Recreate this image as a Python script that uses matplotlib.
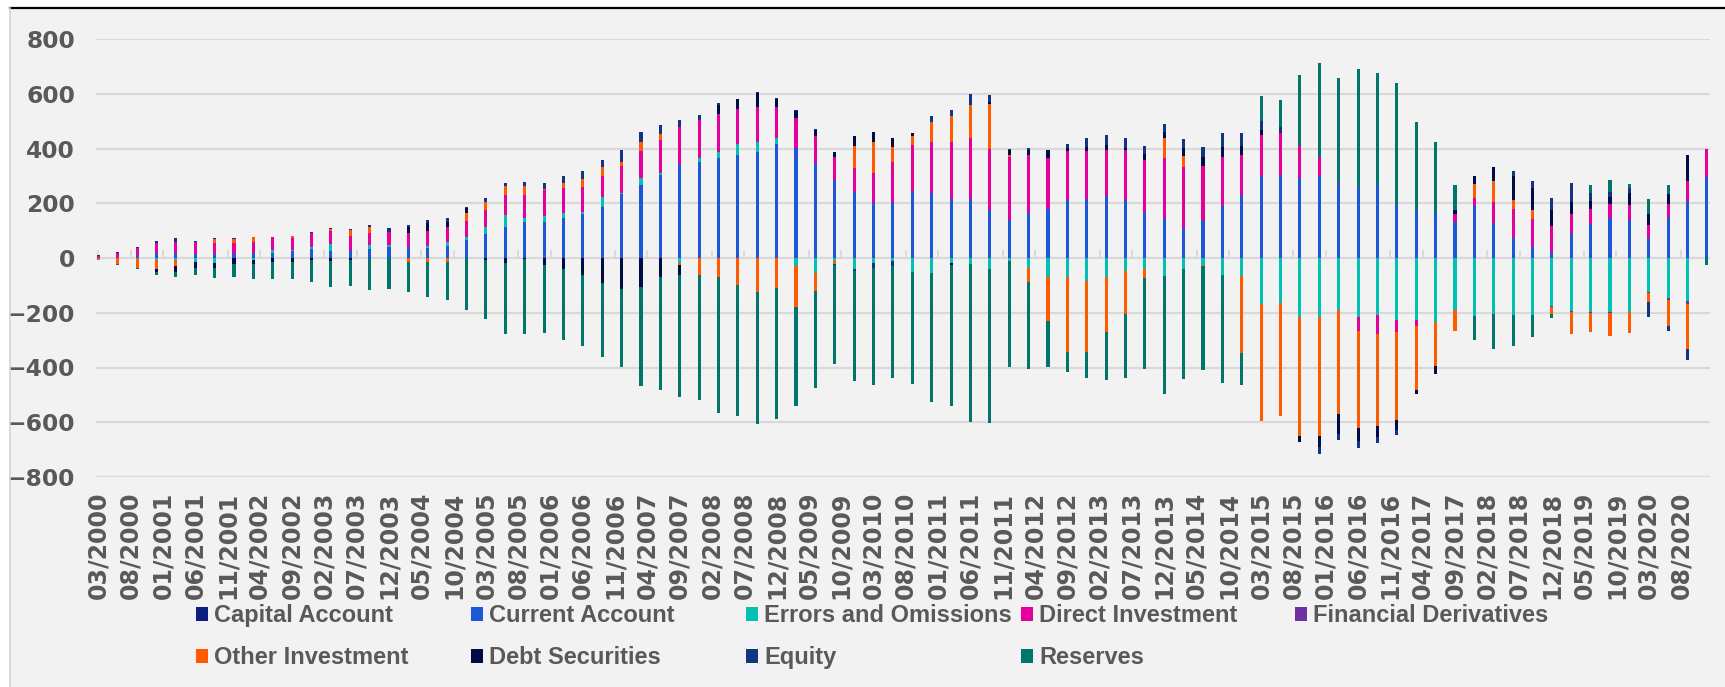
import numpy as np
import pandas as pd
import matplotlib
matplotlib.use("Agg")
import matplotlib.pyplot as plt
from matplotlib.patches import Rectangle
from matplotlib.lines import Line2D

# ---------------- data (USD bn, quarterly 03/2000 .. 12/2020) ----------------
quarters = pd.period_range("2000-03", "2020-12", freq="3M")
quarter_labels = [p.strftime("%m/%Y") for p in quarters]

series_names = ["Capital Account", "Current Account", "Errors and Omissions",
                "Direct Investment", "Financial Derivatives", "Other Investment",
                "Debt Securities", "Equity", "Reserves"]

capital_account = [0] * 84

current_account = [0, 0, 10, 17, 20, 15, 15, 15, 17, 20,
                   25, 32, 27, 29, 33, 39, 40, 38, 45, 66,
                   86, 113, 130, 131, 146, 160, 188, 235, 265, 302,
                   342, 352, 367, 378, 389, 418, 403, 348, 285, 242,
                   201, 205, 245, 239, 217, 217, 175, 138, 163, 180,
                   212, 216, 228, 211, 168, 147, 111, 140, 190, 231,
                   301, 305, 292, 300, 269, 259, 267, 199, 173, 164,
                   132, 189, 129, 74, 41, 21, 93, 124, 147, 138,
                   72, 151, 207, 295]

errors_omissions = [-3, 0, 0, -9, -8, -13, -17, 0, -6, 11,
                    5, 10, 24, 2, 13, 8, 0, 5, 12, 11,
                    27, 43, 16, 23, 18, 9, 34, 4, 27, 9,
                    -17, 15, 21, 38, 35, 19, -30, -55, -10, -39,
                    -17, -10, -50, -56, -20, -22, -41, -12, -38, -68,
                    -68, -84, -69, -49, -40, -66, -41, -24, -63, -67,
                    -169, -165, -215, -215, -191, -216, -207, -227, -227, -235,
                    -190, -211, -205, -208, -208, -174, -194, -199, -199, -199,
                    -123, -145, -156, 0]

direct_investment = [9, 18, 26, 39, 39, 42, 39, 39, 40, 44,
                     44, 48, 49, 49, 45, 49, 51, 54, 58, 58,
                     63, 73, 83, 94, 93, 90, 77, 97, 100, 119,
                     136, 138, 138, 130, 128, 114, 108, 96, 84, 88,
                     111, 146, 168, 183, 207, 222, 222, 231, 212, 185,
                     179, 175, 167, 184, 190, 217, 223, 195, 178, 145,
                     149, 151, 116, 68, 6, -52, -71, -43, -21, 0,
                     30, 29, 77, 104, 101, 95, 67, 54, 51, 56,
                     50, 46, 73, 104]

financial_derivatives = [0] * 72 + [-3, 0, 0, -6, -5, -2, -2, 0, -5, -10, -12, 0]

other_investment = [-6, -22, -35, -32, -23, 0, 15, 15, 21, 0,
                    7, 0, 6, 23, 24, 0, -16, -14, -14, 30,
                    29, 33, 35, 4, 18, 30, 32, 15, 30, 23,
                    -7, -61, -68, -97, -124, -110, -149, -65, -12, 78,
                    112, 55, 34, 76, 94, 119, 164, 7, -49, -162,
                    -274, -258, -200, -157, -34, 73, 39, -6, 0, -280,
                    -425, -413, -436, -435, -378, -352, -337, -323, -234, -160,
                    -78, 52, 76, 33, 33, -23, -77, -68, -85, -74,
                    -33, -95, -164, 0]

debt_securities = [0, 0, 0, -10, -20, -23, -20, -22, -16, -13,
                   -16, -8, -11, -7, 0, 0, 22, 30, 15, 16,
                   -8, -20, -4, -24, -41, -63, -90, -112, -107, -69,
                   -39, 0, 32, 34, 52, 30, 26, 24, 18, 39,
                   37, 33, 10, 0, -5, 0, 9, 17, 18, 30,
                   12, 16, 16, 7, 21, 23, 29, 35, 37, 33,
                   17, 0, -21, -41, -73, -49, -40, -37, -16, -30,
                   12, 29, 50, 89, 82, 61, 43, 32, 26, 45,
                   37, 37, 95, 0]

equity = [2, 4, 5, 6, 13, 4, 5, 3, 0, 3,
          0, 4, 5, 4, 4, 12, 8, 12, 17, 5,
          13, 12, 15, 21, 24, 29, 28, 43, 39, 32,
          27, 17, 9, 0, 4, 5, 5, 4, -5, -8,
          -18, -20, 0, 22, 23, 41, 27, 5, 10, 0,
          12, 33, 37, 38, 29, 28, 33, 37, 50, 49,
          34, 21, 0, -26, -24, -26, -22, -15, 0, 0,
          0, 0, 0, 18, 23, 44, 71, 26, 17, 15,
          -54, -17, -41, 0]

reserves = [0, -3, -5, -12, -20, -25, -37, -46, -56, -62,
            -62, -80, -95, -96, -118, -113, -107, -130, -139, -190,
            -214, -257, -274, -251, -260, -260, -272, -286, -360, -415,
            -443, -459, -497, -481, -482, -479, -363, -354, -360, -402,
            -430, -409, -410, -470, -515, -576, -561, -387, -319, -167,
            -75, -97, -177, -234, -333, -430, -400, -378, -393, -117,
            89, 100, 261, 343, 384, 432, 409, 442, 324, 258,
            93, -90, -125, -115, -79, -18, 0, 30, 44, 18,
            57, 32, 0, -27]

series_values = [capital_account, current_account, errors_omissions,
                 direct_investment, financial_derivatives, other_investment,
                 debt_securities, equity, reserves]
series_colors = ["#0B1F7E", "#1E56DA", "#00C1B3", "#E6009B", "#7030A0",
                 "#FF5A00", "#000C45", "#123483", "#00766B"]

# ---------------- figure ----------------
W, H = 1725, 687
fig = plt.figure(figsize=(W / 100, H / 100), dpi=100, facecolor="white")
bg = "#F2F2F2"
txt = "#595959"
fig.patches.append(Rectangle((10 / W, 0), 1 - 10 / W, 1 - 8 / H,
                             transform=fig.transFigure, facecolor=bg,
                             edgecolor="none", zorder=-10))
fig.lines.append(Line2D([10 / W, 1], [1 - 8 / H, 1 - 8 / H], transform=fig.transFigure,
                        color="black", lw=1.6))
fig.lines.append(Line2D([10 / W, 10 / W], [0, 1 - 8 / H], transform=fig.transFigure,
                        color="#D4D4D4", lw=1.2))

left, right = 96 / W, 1709.5 / W
top, bottom = 1 - 39 / H, 1 - 477 / H
ax = fig.add_axes([left, bottom, right - left, top - bottom])
ax.set_facecolor("none")

# months since 03/2000 for each quarterly bar
x = np.array([(p.year - 2000) * 12 + p.month - 3 for p in quarters], dtype=float)

plt.rcParams["font.family"] = ["Liberation Sans", "DejaVu Sans"]

pos_base = np.zeros(len(x))
neg_base = np.zeros(len(x))
containers = []
for name, vals, col in zip(series_names, series_values, series_colors):
    v = np.asarray(vals, dtype=float)
    base = np.where(v >= 0, pos_base, neg_base)
    c = ax.bar(x, v, bottom=base, width=0.48, color=col, label=name,
               linewidth=0, zorder=3)
    containers.append(c)
    pos_base = pos_base + np.where(v > 0, v, 0)
    neg_base = neg_base + np.where(v < 0, v, 0)

ax.set_ylim(-800, 800)
ax.set_xlim(-0.36, 249.4)
ax.set_yticks(np.arange(-800, 801, 200))
ax.yaxis.grid(True, color="#D9D9D9", lw=1.6, zorder=0)
ax.set_axisbelow(True)
for s in ax.spines.values():
    s.set_visible(False)
ax.tick_params(axis="y", length=0, pad=15, labelsize=16.8, labelcolor=txt)
for lab in ax.get_yticklabels():
    lab.set_fontweight("bold")

# x labels every 5 months at the bottom
label_pos = np.arange(0, 246, 5)
label_text = [pd.Period("2000-03", freq="M") + int(m) for m in label_pos]
label_text = [p.strftime("%m/%Y") for p in label_text]
ax.set_xticks(label_pos)
ax.set_xticklabels(label_text, rotation=90, fontsize=17, fontweight="bold",
                   color=txt)
ax.tick_params(axis="x", length=0, pad=10.5)

# zero axis tick marks
sec = ax.secondary_xaxis(0.5)
sec.set_xticks(label_pos)
sec.tick_params(axis="x", length=6, width=1.3, color="#D9D9D9", direction="out",
                labelbottom=False, labeltop=False)
for s in sec.spines.values():
    s.set_visible(False)

# legend: 5 equal-width columns, filled row by row
order_rows = [[0, 1, 2, 3, 4], [5, 6, 7, 8]]
col_x = [195.6, 471, 746, 1020.7, 1295]
for ci, cx in enumerate(col_x):
    idx = [r[ci] for r in order_rows if ci < len(r)]
    hs = [containers[i] for i in idx]
    ls = [series_names[i] for i in idx]
    leg = fig.legend(hs, ls, loc="upper left",
                     bbox_to_anchor=(cx / W, 1 - 604 / H),
                     frameon=False, borderpad=0, borderaxespad=0,
                     handlelength=0.52, handleheight=0.52, handletextpad=0.25,
                     labelspacing=0.81,
                     prop={"family": "Liberation Sans", "weight": "bold", "size": 17})
    for t in leg.get_texts():
        t.set_color(txt)

fig.savefig("out.png", dpi=100, facecolor="white")
